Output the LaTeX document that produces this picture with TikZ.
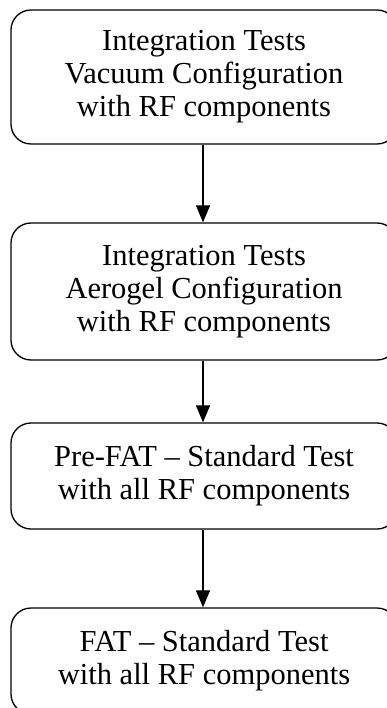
\documentclass[tikz,border=0pt]{standalone}
\usepackage{fontspec}
\setmainfont{Liberation Serif}
\usetikzlibrary{arrows.meta}
\tikzset{
  stage/.style={draw, line width=1.3pt, rounded corners=20pt, minimum width=386pt,
    align=center, inner sep=0pt, font=\fontsize{30.5}{33}\selectfont},
  flow/.style={draw, line width=1.2pt, -{Triangle[width=14pt,length=17pt]}}
}
\begin{document}
\begin{tikzpicture}[x=1pt,y=1pt]
  \useasboundingbox (0,0) rectangle (386,-708);
  \node[stage, minimum height=134pt] (s1) at (204,-77)
    {Integration Tests\\Vacuum Configuration\\with RF components};
  \node[stage, minimum height=137pt] (s2) at (204,-291.5)
    {Integration Tests\\Aerogel Configuration\\with RF components};
  \node[stage, minimum height=106pt] (s3) at (204,-476)
    {Pre-FAT -- Standard Test\\with all RF components};
  \node[stage, minimum height=106pt] (s4) at (204,-661)
    {FAT -- Standard Test\\with all RF components};
  \draw[flow] (s1.south -| 203,0) -- (s2.north -| 203,0);
  \draw[flow] (s2.south -| 203,0) -- (s3.north -| 203,0);
  \draw[flow] (s3.south -| 203,0) -- (s4.north -| 203,0);
\end{tikzpicture}
\end{document}
